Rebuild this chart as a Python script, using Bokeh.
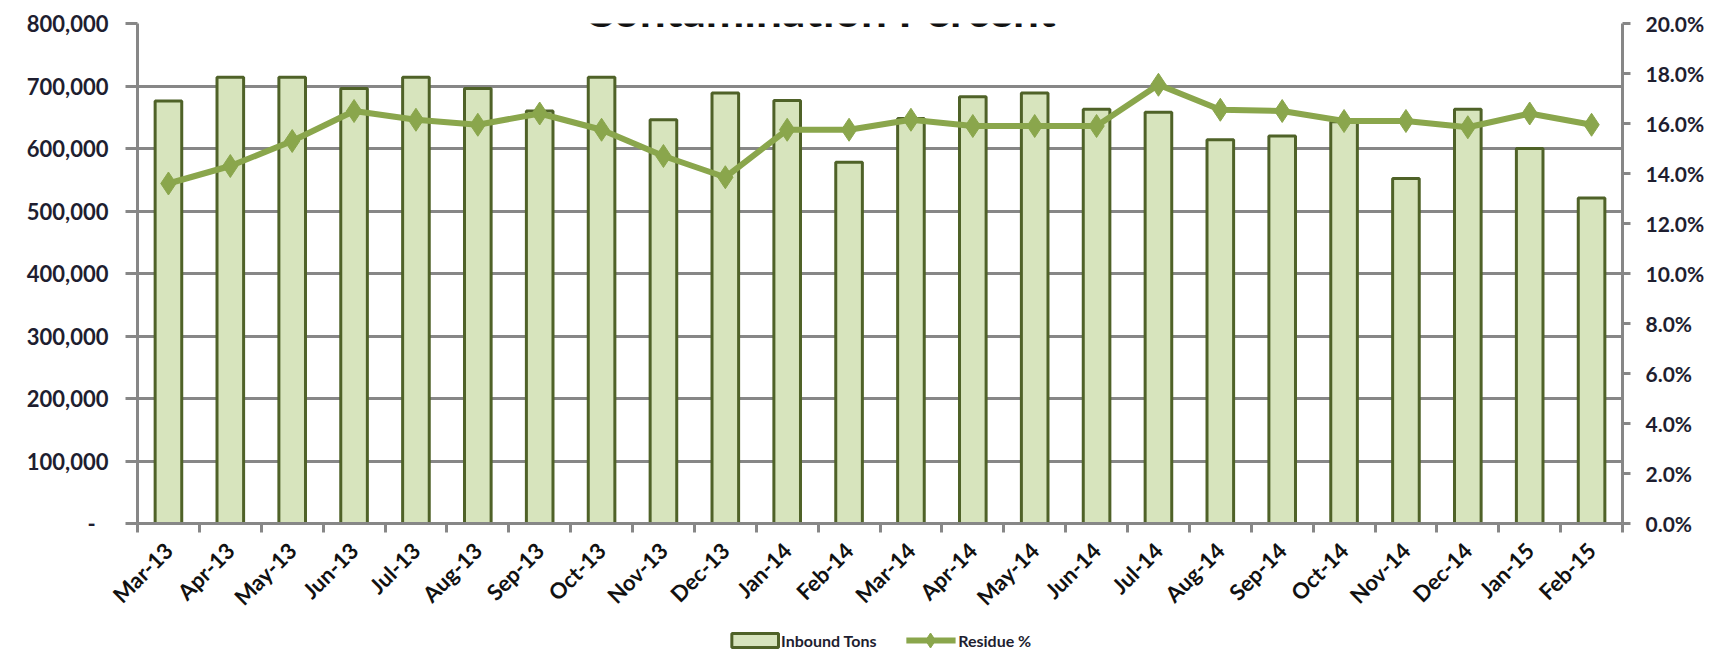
from bokeh.plotting import figure
from bokeh.models import (Range1d, LinearAxis, FixedTicker, NumeralTickFormatter,
                          Label, ColumnDataSource)
from bokeh.layouts import column
from bokeh.embed import file_html
from bokeh.resources import INLINE
from bokeh.core.properties import value
import math

# ---- data ----
months = ["Mar-13", "Apr-13", "May-13", "Jun-13", "Jul-13", "Aug-13", "Sep-13", "Oct-13",
          "Nov-13", "Dec-13", "Jan-14", "Feb-14", "Mar-14", "Apr-14", "May-14", "Jun-14",
          "Jul-14", "Aug-14", "Sep-14", "Oct-14", "Nov-14", "Dec-14", "Jan-15", "Feb-15"]
inbound_tons = [676000, 714000, 714000, 696000, 714000, 696000, 660000, 714000,
                646000, 689000, 677000, 578000, 648000, 683000, 689000, 663000,
                658000, 614000, 620000, 643000, 552000, 663000, 600000, 521000]
residue_pct = [13.6, 14.3, 15.3, 16.5, 16.15, 15.95, 16.4, 15.75,
               14.7, 13.85, 15.75, 15.75, 16.15, 15.9, 15.9, 15.9,
               17.55, 16.55, 16.5, 16.1, 16.1, 15.85, 16.4, 15.95]
left_ticks = [0, 100000, 200000, 300000, 400000, 500000, 600000, 700000, 800000]
right_ticks_pct = [0, 2, 4, 6, 8, 10, 12, 14, 16, 18, 20]
title_text = "Contamination Percent"
legend_labels = ["Inbound Tons", "Residue %"]

# ---- styling ----
FONT = "Lato"
GRID = "#878787"
BAR_FILL = "#D7E4BD"
BAR_LINE = "#4F6228"
LINE_COL = "#8AA64C"
LABEL_COL = "#1E1E30"

n = len(months)
x_centers = [i + 0.5 for i in range(n)]
src = ColumnDataSource(dict(x=x_centers, tons=inbound_tons,
                            pct=[v / 100.0 for v in residue_pct], month=months))

W, H_MAIN, H_LEG = 1719, 622, 28
p = figure(width=W, height=H_MAIN, output_backend="svg", toolbar_location=None, tools="",
           x_range=Range1d(0, n), y_range=Range1d(0, left_ticks[-1]),
           min_border_left=137, min_border_right=97, min_border_top=23, min_border_bottom=95)
p.outline_line_color = None
p.background_fill_color = "white"
p.border_fill_color = "white"

# grid
p.xgrid.visible = False
p.ygrid.ticker = FixedTicker(ticks=left_ticks)
p.ygrid.grid_line_color = GRID
p.ygrid.grid_line_width = 3

# left axis
ly = p.yaxis[0]
ly.ticker = FixedTicker(ticks=left_ticks)
ly.formatter = NumeralTickFormatter(format="0,0")
ly.major_label_overrides = {0: "-\u2007"}
ly.axis_line_color = GRID
ly.axis_line_width = 3
ly.major_tick_line_color = GRID
ly.major_tick_line_width = 3
ly.major_tick_out = 12
ly.major_tick_in = 0
ly.minor_tick_line_color = None
ly.major_label_standoff = 17
ly.major_label_text_font = FONT
ly.major_label_text_font_style = "bold"
ly.major_label_text_font_size = "22px"
ly.major_label_text_color = LABEL_COL

# bottom axis: labels at month centres, tick marks between months
bx = p.xaxis[0]
bx.ticker = FixedTicker(ticks=x_centers, minor_ticks=list(range(n + 1)))
bx.major_label_overrides = {x: m for x, m in zip(x_centers, months)}
bx.axis_line_color = GRID
bx.axis_line_width = 3
bx.major_tick_line_color = None
bx.major_tick_out = 0
bx.major_tick_in = 0
bx.minor_tick_line_color = GRID
bx.minor_tick_line_width = 3
bx.minor_tick_out = 9
bx.minor_tick_in = 0
bx.major_label_standoff = 14
bx.major_label_orientation = math.pi / 4
bx.major_label_text_font = FONT
bx.major_label_text_font_style = "bold"
bx.major_label_text_font_size = "22px"
bx.major_label_text_color = "#111111"

# right axis
p.extra_y_ranges = {"pct": Range1d(0, right_ticks_pct[-1] / 100.0)}
ry = LinearAxis(y_range_name="pct",
                ticker=FixedTicker(ticks=[t / 100.0 for t in right_ticks_pct]),
                formatter=NumeralTickFormatter(format="0.0%"))
ry.axis_line_color = GRID
ry.axis_line_width = 3
ry.major_tick_line_color = GRID
ry.major_tick_line_width = 3
ry.major_tick_out = 8
ry.major_tick_in = 0
ry.minor_tick_line_color = None
ry.major_label_standoff = 15
ry.major_label_text_font = FONT
ry.major_label_text_font_style = "bold"
ry.major_label_text_font_size = "21px"
ry.major_label_text_color = LABEL_COL
p.add_layout(ry, "right")

# glyphs
bars = p.vbar(x="x", top="tons", width=0.43, source=src,
              fill_color=BAR_FILL, line_color=BAR_LINE, line_width=3)
ln = p.line(x="x", y="pct", source=src, y_range_name="pct",
            line_color=LINE_COL, line_width=6)
pts = p.scatter(x="x", y="pct", source=src, y_range_name="pct", marker="diamond",
                size=23, fill_color=LINE_COL, line_color=LINE_COL, line_width=1)

# title (partially cut off at the top, as in the original)
title = Label(x=682, y=514, x_units="screen", y_units="screen", text=title_text,
              text_align="center", text_baseline="alphabetic",
              text_font=FONT, text_font_style="bold", text_font_size="46px",
              text_color="#111111")
p.add_layout(title)

# ---- legend strip below the chart (pixel coordinates of the strip) ----
leg = figure(width=W, height=H_LEG, output_backend="svg", toolbar_location=None, tools="",
             x_range=Range1d(0, W), y_range=Range1d(H_LEG, 0),
             x_axis_type=None, y_axis_type=None,
             min_border_left=0, min_border_right=0, min_border_top=0, min_border_bottom=0)
leg.outline_line_color = None
leg.xgrid.visible = False
leg.ygrid.visible = False
leg.border_fill_color = "white"
leg.background_fill_color = "white"

ly_c = 18
leg.rect(x=[715], y=[ly_c], width=[54], height=[14], fill_color=BAR_FILL,
         line_color=BAR_LINE, line_width=3)
leg.text(x=[745], y=[ly_c], text=[legend_labels[0]], text_font=value(FONT),
         text_font_style="bold", text_font_size="16px", text_color=LABEL_COL,
         text_baseline="middle", text_align="left")
leg.segment(x0=[890], y0=[ly_c], x1=[947], y1=[ly_c], line_color=LINE_COL, line_width=6)
leg.scatter(x=[918], y=[ly_c], marker="diamond", size=15, fill_color=LINE_COL,
            line_color=LINE_COL)
leg.text(x=[950], y=[ly_c], text=[legend_labels[1]], text_font=value(FONT),
         text_font_style="bold", text_font_size="16px", text_color=LABEL_COL,
         text_baseline="middle", text_align="left")

layout = column(p, leg, spacing=0)
open("out.html", "w").write(file_html(layout, INLINE))
